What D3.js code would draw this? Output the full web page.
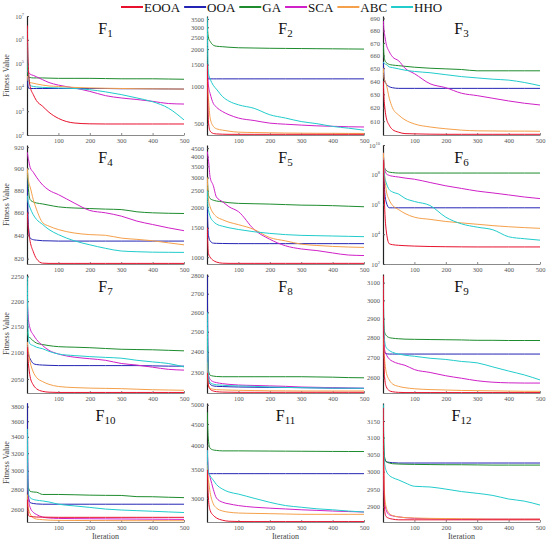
<!DOCTYPE html>
<html>
<head>
<meta charset="utf-8">
<script src="https://cdn.jsdelivr.net/npm/d3@7"></script>
<style>
  body { margin: 0; background: #fff; }
  svg { display: block; }
  text { font-family: "Liberation Serif", "DejaVu Serif", serif; }
</style>
</head>
<body>
<div id="chart"></div>
<script>
// algorithms and the iterations each curve is sampled at
const algorithms = ["EOOA", "OOA", "GA", "SCA", "ABC", "HHO"];
const colors = ["#e8112d", "#2424b4", "#1e8c2e", "#d020c8", "#f5a04a", "#22cccc"];
const iterations = [1, 3, 5, 10, 20, 30, 50, 70, 100, 150, 200, 250, 300, 350, 400, 450, 500];

// best fitness per algorithm (rows in the order of `algorithms`)
const f1 = [
  [4e6, 2e5, 5e4, 1.1e4, 5e3, 2.8e3, 1.6e3, 900, 500, 320, 295, 290, 290, 290, 290, 290, 290],
  [3e4, 1.2e4, 9.5e3, 9e3, 9e3, 9e3, 9e3, 9e3, 9e3, 9e3, 9e3, 9e3, 8.8e3, 8.8e3, 8.7e3, 8.6e3, 8.5e3],
  [1e5, 3e4, 2.7e4, 2.6e4, 2.5e4, 2.5e4, 2.5e4, 2.45e4, 2.4e4, 2.4e4, 2.4e4, 2.35e4, 2.3e4, 2.3e4, 2.3e4, 2.25e4, 2.2e4],
  [5e4, 4.5e4, 4.3e4, 3.6e4, 3.2e4, 2.8e4, 2.1e4, 1.6e4, 1.25e4, 9.5e3, 6.8e3, 4.5e3, 3.6e3, 3.1e3, 2.6e3, 2.1e3, 2e3],
  [3e4, 2e4, 1.8e4, 1.6e4, 1.5e4, 1.4e4, 1.25e4, 1.15e4, 1.1e4, 1e4, 9.5e3, 9.2e3, 9e3, 8.8e3, 8.7e3, 8.6e3, 8.5e3],
  [3e6, 1e5, 3e4, 1.2e4, 1.1e4, 1.05e4, 1e4, 9.8e3, 9.5e3, 9e3, 8e3, 6.5e3, 5e3, 3.6e3, 2.5e3, 1.35e3, 430]
];
const f2 = [
  [1500, 700, 505, 435, 417, 413, 411, 410, 410, 410, 410, 410, 410, 410, 410, 410, 410],
  [1300, 1160, 1150, 1150, 1150, 1150, 1150, 1150, 1150, 1150, 1150, 1150, 1150, 1150, 1150, 1150, 1150],
  [3000, 2600, 2450, 2310, 2150, 2110, 2090, 2070, 2050, 2040, 2030, 2025, 2020, 2015, 2010, 2005, 2000],
  [1500, 1150, 1000, 875, 730, 680, 625, 590, 555, 530, 505, 495, 487, 480, 476, 472, 470],
  [1200, 900, 775, 555, 476, 455, 443, 435, 427, 424, 422, 420, 419, 418, 418, 417, 417],
  [3600, 1500, 1260, 1150, 1020, 950, 825, 760, 710, 665, 590, 555, 520, 500, 475, 460, 443]
];
const f3 = [
  [640, 628, 622, 613, 607, 604, 602, 601, 600.8, 600.6, 600.5, 600.5, 600.5, 600.5, 600.5, 600.5, 600.5],
  [655, 645, 641, 638, 635.8, 635, 634.5, 634.5, 634.5, 634.5, 634.5, 634.5, 634.5, 634.5, 634.5, 634.5, 634.5],
  [670, 660, 657, 654.5, 653, 652.5, 652, 651.5, 650.8, 650, 649.5, 649, 648, 648, 648, 648, 648],
  [688, 680, 677, 669.5, 663, 659, 655.8, 650, 645.8, 638, 635, 630.8, 629, 627, 625, 623.3, 622],
  [650, 643, 641, 638, 627, 620, 614.5, 611, 608, 605.8, 604.5, 603.5, 603, 602.9, 602.8, 602.8, 602.7],
  [655, 654, 653.5, 653, 651, 650.5, 649.5, 648.5, 647.5, 646.5, 645, 643.5, 642.5, 641.5, 640.8, 639, 636.5]
];
const f4 = [
  [860, 850, 843.5, 834.7, 825.9, 820, 816.2, 816, 816, 816, 816, 816, 816, 816, 816, 816, 816],
  [900, 860, 846.5, 837.6, 836.2, 835.8, 835.3, 835.2, 835, 835, 835, 835, 835, 835, 835, 835, 835],
  [900, 888, 880, 871.5, 869.4, 868.5, 867.6, 866.5, 865, 864, 863.5, 863, 862.6, 860.6, 859.7, 859.3, 859.1],
  [915, 911, 908, 901, 896.5, 892, 884.7, 880, 876, 868.5, 861.8, 859.7, 856.8, 852.4, 849.4, 846.5, 844],
  [900, 892, 888, 883, 871.5, 863, 851, 848, 845, 842, 840.6, 840, 837.6, 836.5, 835.3, 833.5, 831.8],
  [875, 870, 868, 864, 858, 854, 849.4, 845, 840.6, 835.3, 831.8, 828.8, 826.5, 825.9, 825.5, 825.4, 825.3]
];
const f5 = [
  [1500, 1150, 1046, 1000, 956, 935, 920, 918, 918, 918, 918, 918, 918, 918, 918, 918, 918],
  [2000, 1500, 1339, 1252, 1213, 1210, 1208, 1206, 1205, 1205, 1205, 1205, 1205, 1205, 1205, 1205, 1205],
  [3000, 2500, 2345, 2245, 2195, 2170, 2145, 2120, 2100, 2090, 2080, 2065, 2050, 2045, 2035, 2020, 2005],
  [4300, 4000, 3760, 3005, 2686, 2295, 2145, 2005, 1875, 1465, 1280, 1170, 1120, 1095, 1060, 1030, 1023],
  [3000, 2400, 2200, 2005, 1834, 1750, 1675, 1620, 1566, 1465, 1310, 1252, 1197, 1175, 1160, 1150, 1144],
  [2500, 2000, 1900, 1753, 1638, 1580, 1532, 1500, 1465, 1420, 1388, 1365, 1351, 1345, 1339, 1333, 1327]
];
const f6 = [
  [1e9, 3e7, 1e6, 2e4, 2.3e3, 2e3, 1.8e3, 1.7e3, 1.6e3, 1.5e3, 1.45e3, 1.42e3, 1.4e3, 1.4e3, 1.4e3, 1.4e3, 1.4e3],
  [2e9, 1e8, 1e7, 1.5e6, 6e5, 6e5, 6e5, 6e5, 6e5, 6e5, 6e5, 6e5, 6e5, 6e5, 6e5, 6e5, 6e5],
  [3e9, 5e8, 3e8, 2e8, 1.5e8, 1.4e8, 1.3e8, 1.3e8, 1.3e8, 1.3e8, 1.3e8, 1.3e8, 1.3e8, 1.3e8, 1.3e8, 1.3e8, 1.3e8],
  [3e9, 6e8, 3e8, 1.2e8, 9e7, 8e7, 7e7, 6e7, 5e7, 3e7, 1.8e7, 1.2e7, 8e6, 6e6, 4.4e6, 3.2e6, 2.5e6],
  [3e9, 5e8, 1e8, 1e7, 2e6, 9e5, 4.5e5, 2.5e5, 1.4e5, 1e5, 7.2e4, 5.8e4, 4.7e4, 3.8e4, 3.2e4, 2.8e4, 2.5e4],
  [1e9, 2e8, 8e7, 3e7, 1e7, 7e6, 5e6, 2.6e6, 1.6e6, 8.5e5, 1.4e5, 5e4, 3e4, 2e4, 6.8e3, 5e3, 4e3]
];
const f7 = [
  [2110, 2090, 2076, 2054, 2039, 2032, 2027, 2025.5, 2025, 2025, 2025, 2025, 2025, 2025, 2025, 2025, 2025],
  [2120, 2100, 2095, 2088, 2079, 2077, 2076, 2075.5, 2075, 2075, 2075, 2075, 2075, 2075, 2074.5, 2074, 2074],
  [2140, 2133, 2130, 2128, 2122, 2118, 2115, 2113, 2111, 2110, 2109, 2107.5, 2106, 2105.5, 2105, 2104, 2103],
  [2200, 2175, 2161, 2146, 2134, 2125, 2113, 2104, 2097, 2091, 2088, 2085, 2079, 2076, 2072, 2068, 2066.5],
  [2120, 2108, 2100, 2082, 2063, 2053, 2045, 2040, 2036, 2034, 2033, 2032.5, 2032, 2031, 2030, 2029.5, 2029],
  [2250, 2150, 2125, 2116, 2113, 2110, 2107, 2102, 2097, 2094, 2092, 2090.5, 2089, 2085, 2082, 2079, 2072.5]
];
const f8 = [
  [2300, 2260, 2240, 2225, 2217, 2214, 2212, 2211.5, 2211, 2211, 2211, 2211, 2211, 2211, 2211, 2211, 2211],
  [2800, 2400, 2262, 2248, 2240, 2238, 2237, 2236, 2235, 2234, 2233, 2233, 2232, 2231, 2230, 2229.5, 2229],
  [2500, 2350, 2308, 2289, 2285, 2283, 2282, 2282, 2282, 2282, 2282, 2282, 2282, 2281, 2280, 2278, 2277],
  [2400, 2320, 2290, 2270, 2259, 2255, 2250, 2247, 2244, 2242, 2240, 2238, 2235, 2233.5, 2232, 2230, 2229],
  [2350, 2270, 2240, 2229, 2225, 2223, 2222, 2221, 2220, 2219, 2218, 2217.5, 2217, 2217, 2217, 2217, 2217],
  [2600, 2320, 2280, 2255, 2248, 2245, 2243, 2241, 2240, 2238, 2235, 2233, 2232, 2231, 2230, 2229.5, 2229]
];
const f9 = [
  [3140, 2700, 2604, 2558, 2538, 2533, 2530, 2529, 2529, 2529, 2529, 2529, 2529, 2529, 2529, 2529, 2529],
  [2780, 2740, 2725, 2718, 2716, 2716, 2716, 2716, 2716, 2716, 2716, 2716, 2716, 2716, 2716, 2716, 2716],
  [2950, 2860, 2829, 2812, 2800, 2797, 2794, 2792, 2791, 2790, 2789, 2788, 2786, 2786, 2785, 2785, 2785],
  [2900, 2790, 2739, 2716, 2691, 2680, 2668, 2660, 2639, 2625, 2609, 2597, 2585, 2578, 2575, 2574, 2574],
  [2800, 2730, 2691, 2628, 2589, 2570, 2558, 2552, 2547, 2543, 2541, 2539, 2538, 2537, 2536, 2535, 2535],
  [3100, 2850, 2785, 2750, 2734, 2725, 2716, 2710, 2705, 2695, 2689, 2679, 2672, 2652, 2632, 2613, 2589]
];
const f10 = [
  [2700, 2600, 2545, 2536, 2533, 2531, 2530, 2529, 2528, 2528, 2528, 2528, 2528, 2528, 2528, 2528, 2528],
  [3850, 2900, 2718, 2669, 2660, 2656, 2653, 2653, 2653, 2653, 2653, 2653, 2653, 2653, 2653, 2653, 2653],
  [2900, 2830, 2814, 2782, 2775, 2773, 2750, 2750, 2750, 2747, 2743, 2741, 2740, 2728, 2727, 2722, 2718],
  [3400, 2800, 2700, 2622, 2575, 2555, 2530, 2522, 2518, 2516, 2515, 2514, 2513, 2512, 2511, 2510, 2509],
  [2750, 2650, 2606, 2560, 2524, 2512, 2506, 2502, 2500, 2499, 2498, 2498, 2497, 2497, 2497, 2497, 2497],
  [3500, 2850, 2750, 2718, 2700, 2693, 2685, 2675, 2653, 2637, 2622, 2606, 2597, 2591, 2585, 2579, 2573]
];
const f11 = [
  [3500, 3150, 2957, 2803, 2728, 2690, 2655, 2641, 2637, 2636, 2636, 2636, 2636, 2636, 2636, 2636, 2636],
  [3500, 3450, 3430, 3428, 3428, 3428, 3428, 3428, 3428, 3428, 3428, 3428, 3428, 3428, 3428, 3428, 3428],
  [4800, 4300, 4090, 3940, 3904, 3894, 3884, 3884, 3884, 3882, 3880, 3878, 3876, 3874, 3872, 3871, 3870],
  [3900, 3600, 3450, 3356, 3148, 3000, 2930, 2905, 2878, 2852, 2837, 2825, 2812, 2803, 2793, 2785, 2778],
  [3600, 3400, 3296, 3093, 2906, 2840, 2793, 2775, 2763, 2757, 2753, 2748, 2743, 2743, 2743, 2743, 2743],
  [3900, 3550, 3448, 3386, 3308, 3230, 3148, 3100, 3065, 2995, 2930, 2878, 2852, 2827, 2812, 2793, 2778]
];
const f12 = [
  [3190, 2950, 2891, 2873, 2868, 2866, 2864, 2864, 2864, 2864, 2864, 2864, 2864, 2864, 2864, 2864, 2864],
  [3100, 3050, 3038, 3029, 3027, 3026, 3025, 3025, 3025, 3025, 3025, 3025, 3025, 3025, 3025, 3025, 3025],
  [3150, 3070, 3043, 3029, 3025, 3023, 3022, 3021.5, 3021, 3020.5, 3020, 3020, 3019.5, 3019, 3019, 3019, 3019],
  [3100, 2960, 2918, 2891, 2878, 2875, 2872, 2870, 2868, 2867, 2866.5, 2866, 2866, 2866, 2866, 2866, 2866],
  [3100, 2980, 2936, 2900, 2882, 2876, 2872, 2870, 2869, 2868, 2867.5, 2867, 2866.5, 2866, 2866, 2866, 2866],
  [3200, 3060, 3025, 3003, 2989, 2983, 2976, 2968, 2958, 2956, 2950, 2943, 2938, 2932, 2922, 2916, 2905]
];

// y-axis limits and tick values for every panel
const yLimits = [
  [100, 1e7], [405, 3700], [600, 692], [815.5, 922], [910, 4700], [100, 1e10],
  [2024, 2255], [2208, 2810], [2527, 3150], [2485, 3850], [2630, 5050], [2858, 3205]
];
const yTickValues = [
  [1e2, 1e3, 1e4, 1e5, 1e6, 1e7],
  [500, 1000, 1500, 2000, 2500, 3000, 3500],
  [610, 620, 630, 640, 650, 660, 670, 680, 690],
  [820, 840, 860, 880, 900, 920],
  [1000, 1500, 2000, 2500, 3000, 3500, 4000, 4500],
  [1e2, 1e4, 1e6, 1e8, 1e10],
  [2050, 2100, 2150, 2200, 2250],
  [2300, 2400, 2500, 2600, 2700, 2800],
  [2600, 2700, 2800, 2900, 3000, 3100],
  [2600, 2800, 3000, 3200, 3400, 3600, 3800],
  [3000, 3500, 4000, 4500, 5000],
  [2900, 2950, 3000, 3050, 3100, 3150]
];
const powerTicks = [true, false, false, false, false, true, false, false, false, false, false, false];
const xTickValues = [100, 200, 300, 400, 500];

const panels = [f1, f2, f3, f4, f5, f6, f7, f8, f9, f10, f11, f12];

const W = 550, H = 542;
const colLeft = [27, 207, 383];
const rowTop = [16, 145, 274, 403];
const plotW = 157, plotH = 119;
const serif = "Liberation Serif, DejaVu Serif, serif";

const svg = d3.select("#chart").append("svg")
  .attr("width", W).attr("height", H);

const x = d3.scaleLinear().domain([0, 500]).range([0, plotW]);

panels.forEach((series, i) => {
  const col = i % 3, row = Math.floor(i / 3);
  const g = svg.append("g")
    .attr("transform", `translate(${colLeft[col]},${rowTop[row]})`);

  const y = d3.scaleLog().domain(yLimits[i]).range([plotH, 0]);

  g.append("clipPath").attr("id", "clip" + i)
    .append("rect").attr("width", plotW + 1).attr("height", plotH + 1).attr("y", -1);

  // x axis
  const xa = g.append("g")
    .attr("transform", `translate(0,${plotH})`)
    .call(d3.axisBottom(x).tickValues(xTickValues).tickSize(-2).tickSizeOuter(0).tickPadding(3))
    .attr("font-family", serif);
  xa.select(".domain").attr("stroke", "#8a8a8a");
  xa.selectAll(".tick line").attr("stroke", "#8a8a8a");
  xa.selectAll("text").attr("font-size", 6.5).attr("fill", "#555");

  // y axis
  const ya = g.append("g")
    .call(d3.axisLeft(y).tickValues(yTickValues[i]).tickSize(-2).tickSizeOuter(0).tickPadding(3)
      .tickFormat(powerTicks[i] ? () => "" : d3.format("d")))
    .attr("font-family", serif);
  ya.select(".domain").attr("stroke", "#222").attr("stroke-width", 1.2);
  ya.selectAll(".tick line").attr("stroke", "#555");
  ya.selectAll("text").attr("font-size", 6.5).attr("fill", "#555");
  if (powerTicks[i]) {
    ya.selectAll(".tick text").each(function(d) {
      const t = d3.select(this);
      t.append("tspan").text("10");
      t.append("tspan").attr("font-size", 4.5).attr("dy", -3).text(Math.round(Math.log10(d)));
    });
  }

  // convergence curves (EOOA drawn last so it sits on top)
  const line = d3.line()
    .x((d, k) => x(iterations[k]))
    .y(d => y(d))
    .curve(d3.curveMonotoneX);
  const order = [1, 2, 3, 4, 5, 0];
  g.append("g").attr("clip-path", `url(#clip${i})`)
    .selectAll("path")
    .data(order)
    .enter().append("path")
    .attr("d", a => line(series[a]))
    .attr("fill", "none")
    .attr("stroke", a => colors[a])
    .attr("stroke-width", 1);

  // panel title
  const title = g.append("text")
    .attr("x", plotW * 0.5).attr("y", 18)
    .attr("text-anchor", "middle")
    .attr("font-size", 16).attr("fill", "#111");
  title.append("tspan").text("F");
  title.append("tspan").attr("font-size", 11).attr("dy", 3).text(i + 1);

  if (col === 0) {
    svg.append("text")
      .attr("transform", `translate(9,${rowTop[row] + plotH / 2}) rotate(-90)`)
      .attr("text-anchor", "middle")
      .attr("font-size", 8).attr("fill", "#444")
      .text("Fitness Value");
  }
  if (row === 3) {
    svg.append("text")
      .attr("x", colLeft[col] + plotW / 2).attr("y", rowTop[row] + plotH + 17)
      .attr("text-anchor", "middle")
      .attr("font-size", 8).attr("fill", "#444")
      .text("Iteration");
  }
});

// legend along the top
const legend = svg.append("g").attr("transform", "translate(121,7)");
let lx = 0;
algorithms.forEach((name, a) => {
  legend.append("line")
    .attr("x1", lx).attr("x2", lx + 22).attr("y1", 0).attr("y2", 0)
    .attr("stroke", colors[a]).attr("stroke-width", 2);
  const t = legend.append("text")
    .attr("x", lx + 23).attr("y", 4.5)
    .attr("font-size", 13).attr("fill", "#111")
    .text(name);
  lx += 23 + t.node().getComputedTextLength() + 4;
});
</script>
</body>
</html>
